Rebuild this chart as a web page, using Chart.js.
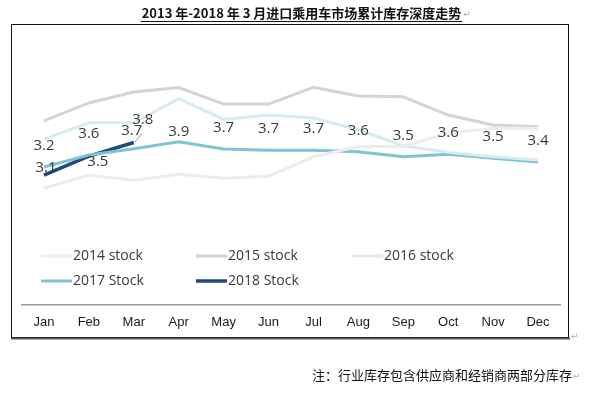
<!DOCTYPE html>
<html><head><meta charset="utf-8">
<script src="https://cdn.jsdelivr.net/npm/chart.js@4.4.1/dist/chart.umd.min.js"></script>
<style>html,body{margin:0;padding:0;background:#fff;}canvas{display:block;}</style>
</head><body>
<canvas id="c" width="600" height="398"></canvas>
<script>
// ---- data ----
const months = ['Jan','Feb','Mar','Apr','May','Jun','Jul','Aug','Sep','Oct','Nov','Dec'];
const seriesNames = ['2014 stock','2015 stock','2016 stock','2017 Stock','2018 Stock'];
const stock2014 = [2.66, 3.02, 2.88, 3.04, 2.93, 2.99, 3.52, 3.80, 3.81, 4.16, 4.30, 4.30];
const stock2015 = [4.50, 4.99, 5.29, 5.41, 4.96, 4.96, 5.42, 5.18, 5.16, 4.66, 4.39, 4.34];
const stock2016 = [4.00, 4.45, 4.45, 5.11, 4.54, 4.66, 4.58, 4.26, 3.82, 3.64, 3.52, 3.43];
const stock2017 = [3.24, 3.57, 3.74, 3.93, 3.73, 3.70, 3.70, 3.66, 3.52, 3.59, 3.48, 3.38];
const stock2018 = [3.02, 3.54, 3.91];
const labels2017 = ['3.2','3.6','3.8','3.9','3.7','3.7','3.7','3.6','3.5','3.6','3.5','3.4'];
const labels2018 = ['3.1','3.5','3.7'];
const titleText = '2013 年-2018 年 3 月进口乘用车市场累计库存深度走势';
const noteText = '注：行业库存包含供应商和经销商两部分库存';

const colors = ['#ececec','#d4d4d4','#d7ebf2','#80c3d3','#1f4a7c'];
const widths = [3, 3, 3, 3, 3.5];
const seriesData = [stock2014, stock2015, stock2016, stock2017, stock2018];

const decor = {
  id: 'decor',
  beforeDraw(chart) {
    const ctx = chart.ctx;
    ctx.save();
    ctx.fillStyle = '#fff';
    ctx.fillRect(0, 0, chart.width, chart.height);
    // frame
    ctx.strokeStyle = '#111';
    ctx.lineWidth = 1;
    ctx.strokeRect(11.5, 24.5, 557, 313);
    ctx.strokeStyle = '#555';
    ctx.lineWidth = 2;
    ctx.beginPath(); ctx.moveTo(11, 338.5); ctx.lineTo(570, 338.5); ctx.stroke();
    ctx.restore();
  },
  afterDatasetsDraw(chart) {
    const ctx = chart.ctx;
    ctx.save();
    ctx.font = '15px "Open Sans"';
    ctx.fillStyle = '#3a3a3a';
    ctx.textAlign = 'center';
    ctx.textBaseline = 'middle';
    const off17 = {2: [9, -29], 3: [0, -10]};
    const m17 = chart.getDatasetMeta(3);
    labels2017.forEach((t, i) => {
      const p = m17.data[i];
      const o = off17[i] || [0, -21];
      ctx.fillText(t, p.x + o[0], p.y + o[1]);
    });
    const off18 = [[2, -7], [9, 6], [-2, -12]];
    const m18 = chart.getDatasetMeta(4);
    labels2018.forEach((t, i) => {
      const p = m18.data[i];
      ctx.fillText(t, p.x + off18[i][0], p.y + off18[i][1]);
    });
    // leader line of the Mar label
    const pm = m18.data[2];
    ctx.strokeStyle = '#9a9a9a';
    ctx.lineWidth = 1;
    ctx.beginPath(); ctx.moveTo(pm.x + 1, pm.y); ctx.lineTo(pm.x + 8, pm.y - 9); ctx.stroke();
    ctx.restore();
  },
  afterDraw(chart) {
    const ctx = chart.ctx;
    ctx.save();
    // title
    ctx.font = 'bold 13px "Noto Sans CJK SC"';
    ctx.fillStyle = '#111';
    ctx.textAlign = 'left';
    ctx.textBaseline = 'alphabetic';
    const tw = ctx.measureText(titleText).width;
    const tx = 301.5 - tw / 2;
    ctx.fillText(titleText, tx, 18);
    ctx.strokeStyle = '#111';
    ctx.lineWidth = 1;
    ctx.beginPath(); ctx.moveTo(tx - 1, 21.5); ctx.lineTo(tx + tw + 1, 21.5); ctx.stroke();
    // return marks
    ctx.font = '9px "DejaVu Sans"';
    ctx.fillStyle = '#9fb3c0';
    ctx.fillText('↵', tx + tw + 2, 17);
    ctx.fillText('↵', 571, 339);
    ctx.fillText('↵', 573, 379);
    // note
    ctx.font = '13px "Noto Sans CJK SC"';
    ctx.fillStyle = '#111';
    ctx.fillText(noteText, 312, 380);
    // legend
    const pos = [[41, 256], [196, 256], [352, 256], [41, 281], [196, 281]];
    ctx.font = '14px "Open Sans"';
    ctx.textBaseline = 'middle';
    chart.data.datasets.forEach((ds, i) => {
      const [x, y] = pos[i];
      ctx.strokeStyle = ds.borderColor;
      ctx.lineWidth = ds.borderWidth;
      ctx.beginPath(); ctx.moveTo(x, y); ctx.lineTo(x + 31, y); ctx.stroke();
      ctx.fillStyle = '#3a3a3a';
      ctx.fillText(ds.label, x + 32, y);
    });
    ctx.restore();
  }
};

new Chart(document.getElementById('c'), {
  type: 'line',
  data: {
    labels: months,
    datasets: seriesNames.map((n, i) => ({
      label: n,
      data: seriesData[i],
      borderColor: colors[i],
      backgroundColor: colors[i],
      borderWidth: widths[i],
      pointRadius: 0,
      tension: 0,
      fill: false
    }))
  },
  options: {
    responsive: false,
    animation: false,
    layout: { padding: { left: 21.5, right: 39.5, top: 30.5, bottom: 67 } },
    plugins: { legend: { display: false }, tooltip: { enabled: false }, title: { display: false } },
    scales: {
      y: { display: false, min: -0.53, max: 6.97 },
      x: {
        offset: true,
        grid: { display: false, drawTicks: false },
        border: { display: true, color: '#9a9a9a', width: 1.5 },
        ticks: { color: '#1a1a1a', font: { family: '"Liberation Sans", Arial', size: 13 }, padding: 10 },
        afterFit(scale) { scale.height = 26; }
      }
    }
  },
  plugins: [decor]
});
</script>
</body></html>
